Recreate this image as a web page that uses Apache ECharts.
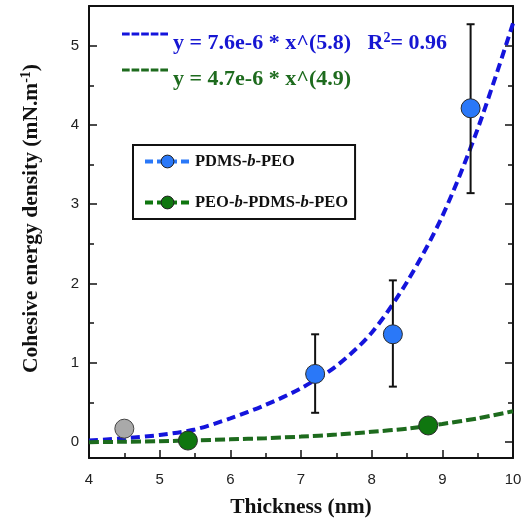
<!DOCTYPE html>
<html>
<head>
<meta charset="utf-8">
<script src="https://cdn.jsdelivr.net/npm/echarts@6/dist/echarts.min.js"></script>
<style>html,body{margin:0;padding:0;background:#fff}#c{width:526px;height:518px}</style>
</head>
<body>
<div id="c"></div>
<script>
// ---- data ----
const xFit = [4, 4.5, 5, 5.5, 6, 6.5, 7, 7.5, 8, 8.5, 9, 9.5, 10];
const pdmsFit = [0.02, 0.05, 0.09, 0.16, 0.30, 0.47, 0.68, 0.96, 1.38, 2.02, 2.85, 3.95, 5.28];
const peoFit = [0.00, 0.005, 0.012, 0.022, 0.035, 0.05, 0.07, 0.095, 0.13, 0.17, 0.23, 0.30, 0.39];

const pdmsX = [7.2, 8.3, 9.4];
const pdmsY = [0.86, 1.36, 4.21];
const pdmsLow = [0.37, 0.70, 3.14];
const pdmsHigh = [1.36, 2.04, 5.27];

const greyX = [4.5];
const greyY = [0.17];

const peoX = [5.4, 8.8];
const peoY = [0.02, 0.21];

const yMajorTicks = [0, 1, 2, 3, 4, 5];
const yMinorTicks = [0.5, 1.5, 2.5, 3.5, 4.5];

const nameFit1 = 'y = 7.6e-6 * x^(5.8)   R2= 0.96';
const nameFit2 = 'y = 4.7e-6 * x^(4.9)';
const namePdms = 'PDMS-b-PEO';
const namePeo = 'PEO-b-PDMS-b-PEO';

// ---- styles ----
const BLUE_LINE = '#1414dc';
const GREEN_LINE = '#1d6b1d';
const BLUE_MARK = '#2a78f8';
const GREEN_MARK = '#0f760f';
const GREY_MARK = '#a9a9a9';
const SERIF = '"Liberation Serif", "Times New Roman", serif';
const SANS = '"Liberation Sans", Arial, sans-serif';

const zip = (a, b) => a.map((v, i) => [v, b[i]]);
// dashed sample sitting at the top of its icon box (tiny speck at the bottom sets the box)
const dashIcon = 'path://M0 0H8V3H0Z M10 0H18V3H10Z M20 0H28V3H20Z M30 0H38V3H30Z M40 0H48V3H40Z M0 20.99H0.01V21H0Z';

const chart = echarts.init(document.getElementById('c'), null, {renderer: 'canvas'});

const axisLineStyle = {show: true, onZero: false, lineStyle: {color: '#111', width: 2}};

const option = {
  animation: false,
  backgroundColor: '#fff',
  grid: {left: 89, right: 13, top: 6, bottom: 60, containLabel: false, outerBoundsMode: 'none'},
  xAxis: [
    {
      type: 'value', position: 'bottom', min: 4, max: 10, interval: 1,
      axisLine: axisLineStyle,
      axisTick: {show: true, inside: true, length: 8, lineStyle: {color: '#111', width: 1.5}},
      minorTick: {show: true, splitNumber: 2, length: 5, lineStyle: {color: '#111', width: 1.5}},
      splitLine: {show: false}, minorSplitLine: {show: false},
      axisLabel: {margin: 14, fontFamily: SANS, fontSize: 15, color: '#222'},
      name: 'Thickness (nm)', nameLocation: 'middle', nameGap: 38,
      nameTextStyle: {fontFamily: SERIF, fontWeight: 'bold', fontSize: 21.5, color: '#111'}
    },
    {
      type: 'value', position: 'top', min: 4, max: 10, interval: 1,
      axisLine: axisLineStyle, axisTick: {show: false}, axisLabel: {show: false},
      splitLine: {show: false}
    }
  ],
  yAxis: [
    {
      type: 'value', position: 'left', min: -0.2, max: 5.5,
      axisLine: axisLineStyle,
      axisTick: {show: true, inside: true, length: 8, customValues: yMajorTicks, lineStyle: {color: '#111', width: 1.5}},
      axisLabel: {customValues: yMajorTicks, margin: 10, fontFamily: SANS, fontSize: 15, color: '#222'},
      splitLine: {show: false},
      name: '{a|Cohesive energy density (mN.m}{s|-1}{a|)}', nameLocation: 'middle', nameGap: 46,
      nameTextStyle: {
        padding: [0, 0, 0, 27],
        rich: {
          a: {fontFamily: SERIF, fontWeight: 'bold', fontSize: 21.5, color: '#111', lineHeight: 24},
          s: {fontFamily: SERIF, fontWeight: 'bold', fontSize: 14, color: '#111', lineHeight: 13, verticalAlign: 'top'}
        }
      }
    },
    {
      type: 'value', position: 'left', min: -0.2, max: 5.5,
      axisLine: {show: false, onZero: false},
      axisTick: {show: true, inside: true, length: 5, customValues: yMinorTicks, lineStyle: {color: '#111', width: 1.5}},
      axisLabel: {show: false}, splitLine: {show: false}
    },
    {
      type: 'value', position: 'right', min: -0.2, max: 5.5,
      axisLine: axisLineStyle,
      axisTick: {show: true, inside: true, length: 8, customValues: yMajorTicks, lineStyle: {color: '#111', width: 1.5}},
      axisLabel: {show: false}, splitLine: {show: false}
    },
    {
      type: 'value', position: 'right', min: -0.2, max: 5.5,
      axisLine: {show: false, onZero: false},
      axisTick: {show: true, inside: true, length: 5, customValues: yMinorTicks, lineStyle: {color: '#111', width: 1.5}},
      axisLabel: {show: false}, splitLine: {show: false}
    }
  ],
  legend: [
    {
      orient: 'vertical', left: 122, top: 31, padding: 0, itemGap: 14,
      itemWidth: 46, itemHeight: 21, symbolKeepAspect: false, selectedMode: false,
      data: [
        {name: nameFit1, icon: dashIcon, itemStyle: {color: BLUE_LINE}},
        {name: nameFit2, icon: dashIcon, itemStyle: {color: GREEN_LINE}}
      ],
      formatter: function (name) {
        if (name === nameFit1) {
          return '{b|y = 7.6e-6 * x^(5.8)   R}{bs|2}{b|= 0.96}';
        }
        return '{g|' + name + '}';
      },
      textStyle: {
        rich: {
          b: {fontFamily: SERIF, fontWeight: 'bold', fontSize: 22, color: '#1616d2', lineHeight: 24},
          bs: {fontFamily: SERIF, fontWeight: 'bold', fontSize: 14, color: '#1616d2', lineHeight: 14, verticalAlign: 'top'},
          g: {fontFamily: SERIF, fontWeight: 'bold', fontSize: 22, color: '#1e6b1e', lineHeight: 24}
        }
      }
    },
    {
      orient: 'vertical', left: 133, top: 145, padding: [8, 7, 8, 10], itemGap: 24,
      itemWidth: 45, itemHeight: 16, selectedMode: false,
      borderColor: '#111', borderWidth: 2, backgroundColor: '#fff',
      data: [
        {name: namePdms, lineStyle: {color: BLUE_MARK, type: [8, 4], width: 4, opacity: 1},
          itemStyle: {color: BLUE_MARK, borderColor: '#222', borderWidth: 1, opacity: 1}},
        {name: namePeo, lineStyle: {color: GREEN_MARK, type: [8, 4], width: 4, opacity: 1},
          itemStyle: {color: GREEN_MARK, borderColor: '#222', borderWidth: 1, opacity: 1}}
      ],
      formatter: function (name) {
        return name.split('-').map(p => p === 'b' ? '{i|b}' : '{n|' + p + '}').join('{n|-}');
      },
      textStyle: {
        rich: {
          n: {fontFamily: SERIF, fontWeight: 'bold', fontSize: 16.5, color: '#111'},
          i: {fontFamily: SERIF, fontWeight: 'bold', fontStyle: 'italic', fontSize: 16.5, color: '#111'}
        }
      }
    }
  ],
  series: [
    {
      name: nameFit1, type: 'line', data: zip(xFit, pdmsFit), smooth: 0.3,
      showSymbol: false, symbol: 'none', z: 1, clip: true,
      itemStyle: {color: BLUE_LINE},
      lineStyle: {color: BLUE_LINE, width: 4, type: [9, 5]}
    },
    {
      name: nameFit2, type: 'line', data: zip(xFit, peoFit), smooth: 0.3,
      showSymbol: false, symbol: 'none', z: 1, clip: true,
      itemStyle: {color: GREEN_LINE},
      lineStyle: {color: GREEN_LINE, width: 4, type: [10, 4]}
    },
    {
      name: 'errors', type: 'custom', z: 2,
      data: pdmsX.map((x, i) => [x, pdmsLow[i], pdmsHigh[i]]),
      renderItem: function (params, api) {
        const lo = api.coord([api.value(0), api.value(1)]);
        const hi = api.coord([api.value(0), api.value(2)]);
        const w = 4;
        const st = {stroke: '#111', lineWidth: 2};
        return {
          type: 'group',
          children: [
            {type: 'line', shape: {x1: lo[0], y1: lo[1], x2: hi[0], y2: hi[1]}, style: st},
            {type: 'line', shape: {x1: lo[0] - w, y1: lo[1], x2: lo[0] + w, y2: lo[1]}, style: st},
            {type: 'line', shape: {x1: hi[0] - w, y1: hi[1], x2: hi[0] + w, y2: hi[1]}, style: st}
          ]
        };
      }
    },
    {
      name: namePdms, type: 'line', data: zip(pdmsX, pdmsY), z: 3,
      symbol: 'circle', symbolSize: 19, showSymbol: true,
      lineStyle: {width: 0, opacity: 0},
      itemStyle: {color: BLUE_MARK, borderColor: '#2a2a2a', borderWidth: 1}
    },
    {
      name: namePeo, type: 'line', data: zip(peoX, peoY), z: 3,
      symbol: 'circle', symbolSize: 19, showSymbol: true,
      lineStyle: {width: 0, opacity: 0},
      itemStyle: {color: GREEN_MARK, borderColor: '#2a2a2a', borderWidth: 1}
    },
    {
      name: 'grey', type: 'scatter', data: zip(greyX, greyY), z: 3,
      symbol: 'circle', symbolSize: 19,
      itemStyle: {color: GREY_MARK, borderColor: '#444', borderWidth: 1, opacity: 1}
    }
  ]
};
chart.setOption(option);
</script>
</body>
</html>
